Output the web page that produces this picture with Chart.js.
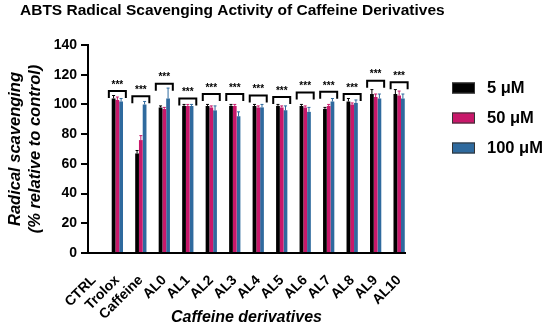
<!DOCTYPE html>
<html lang="en">
<head>
<meta charset="UTF-8">
<title>ABTS Radical Scavenging Activity of Caffeine Derivatives</title>
<script src="https://cdn.jsdelivr.net/npm/chart.js"></script>
<style>
  html, body { margin: 0; padding: 0; background: #fff; }
  #wrap { position: relative; width: 550px; height: 333px; }
</style>
</head>
<body>
<div id="wrap"><canvas id="abtsChart"></canvas></div>
<script>
// data
const categories = ['CTRL', 'Trolox', 'Caffeine', 'AL0', 'AL1', 'AL2', 'AL3', 'AL4', 'AL5', 'AL6', 'AL7', 'AL8', 'AL9', 'AL10'];
const seriesNames = ['5 \u03bcM', '50 \u03bcM', '100 \u03bcM'];
const values5   = [null, 104, 67, 98, 99, 99, 99, 99, 99, 99, 97, 102, 107, 107];
const values50  = [null, 103, 76, 97, 99, 98, 99, 98, 98, 98, 99, 100, 105, 106];
const values100 = [null, 102, 100, 104, 99, 96, 92, 98, 96, 95, 102, 101, 104, 104];
const errors5   = [0, 2, 2, 1, 1, 1, 1, 1, 1, 1, 1, 2, 3, 3];
const errors50  = [0, 2, 3, 1, 1, 1, 1, 1, 1, 1, 1, 1, 2, 3];
const errors100 = [0, 2, 2, 7, 1, 3, 3, 2, 3, 3, 2, 2, 3, 3];
const sigTops   = [null, 109, 105.5, 114, 104, 107, 107, 106, 105, 108, 108.5, 107, 116, 115];
const sigLabels = ['', '***', '***', '***', '***', '***', '***', '***', '***', '***', '***', '***', '***', '***'];
const yTicks = [0, 20, 40, 60, 80, 100, 120, 140];

const colors = ['#000000', '#c8186a', '#2f6a9e'];
const errors = [errors5, errors50, errors100];
const FONT = "'Liberation Sans', Arial, sans-serif";

const extras = {
  id: 'extras',
  afterDatasetsDraw(chart) {
    const ctx = chart.ctx;
    const x = chart.scales.x, y = chart.scales.y;
    ctx.save();
    // error bars (upward only)
    chart.data.datasets.forEach((ds, di) => {
      const meta = chart.getDatasetMeta(di);
      meta.data.forEach((bar, i) => {
        const v = ds.data[i].y, e = errors[di][i];
        if (v == null || !e) return;
        const top = y.getPixelForValue(v + e);
        ctx.strokeStyle = ds.backgroundColor;
        ctx.lineWidth = 1;
        ctx.beginPath();
        ctx.moveTo(bar.x, bar.y);
        ctx.lineTo(bar.x, top);
        ctx.moveTo(bar.x - 1.5, top);
        ctx.lineTo(bar.x + 1.5, top);
        ctx.stroke();
      });
    });
    // significance brackets
    ctx.strokeStyle = '#000';
    ctx.fillStyle = '#000';
    ctx.lineWidth = 2;
    ctx.font = 'bold 10px ' + FONT;
    ctx.textAlign = 'center';
    ctx.textBaseline = 'bottom';
    sigTops.forEach((t, i) => {
      if (t == null) return;
      const cx = x.getPixelForValue(i);
      const ty = y.getPixelForValue(t);
      ctx.beginPath();
      ctx.moveTo(cx - 8.5, ty + 7);
      ctx.lineTo(cx - 8.5, ty);
      ctx.lineTo(cx + 8.5, ty);
      ctx.lineTo(cx + 8.5, ty + 7);
      ctx.stroke();
      ctx.fillText(sigLabels[i], cx, ty - 1);
    });
    ctx.restore();
  },
  afterDraw(chart) {
    const ctx = chart.ctx;
    ctx.save();
    // title
    ctx.fillStyle = '#000';
    ctx.font = 'bold 15.5px ' + FONT;
    ctx.textAlign = 'left';
    ctx.textBaseline = 'middle';
    ctx.fillText('ABTS Radical Scavenging Activity of Caffeine Derivatives', 20, 11);
    // legend
    ctx.font = 'bold 16.5px ' + FONT;
    chart.data.datasets.forEach((ds, i) => {
      const cy = 88 + i * 30;
      ctx.fillStyle = ds.backgroundColor;
      ctx.fillRect(452, cy - 5.5, 23, 11);
      ctx.strokeStyle = '#333';
      ctx.lineWidth = 1;
      ctx.strokeRect(452.5, cy - 5, 22, 10);
      ctx.fillStyle = '#000';
      ctx.fillText(ds.label, 487, cy);
    });
    ctx.restore();
  }
};

const datasets = [values5, values50, values100].map((vals, i) => ({
  label: seriesNames[i],
  data: vals.map((v, k) => ({ x: k, y: v })),
  backgroundColor: colors[i],
  borderWidth: 0,
  categoryPercentage: 0.48,
  barPercentage: 1.0
}));

new Chart(document.getElementById('abtsChart'), {
  type: 'bar',
  data: { datasets: datasets },
  options: {
    responsive: true,
    maintainAspectRatio: false,
    animation: false,
    devicePixelRatio: 1,
    layout: { padding: { top: 45, right: 145, left: 0, bottom: 0 } },
    plugins: {
      legend: { display: false },
      title: { display: false },
      tooltip: { enabled: false }
    },
    scales: {
      x: {
        type: 'linear',
        min: -0.25,
        max: categories.length - 0.75,
        offset: false,
        afterBuildTicks(scale) { scale.ticks = categories.map((c, k) => ({ value: k })); },
        grid: { display: false },
        border: { display: true, color: '#000', width: 2 },
        ticks: {
          color: '#000',
          font: { family: FONT, size: 14, weight: 'bold' },
          minRotation: 45,
          maxRotation: 45,
          autoSkip: false,
          padding: 11,
          callback: (v) => categories[v]
        },
        title: {
          display: true,
          text: 'Caffeine derivatives',
          color: '#000',
          font: { family: FONT, size: 16, weight: 'bold', style: 'italic', lineHeight: 1.25 },
          padding: { top: 0, bottom: 5 }
        },
        afterFit(scale) { scale.height = 80; }
      },
      y: {
        min: 0,
        max: 140,
        afterBuildTicks(scale) { scale.ticks = yTicks.map(v => ({ value: v })); },
        grid: { display: true, drawOnChartArea: false, drawTicks: true, tickLength: 7, color: '#000', lineWidth: 2 },
        border: { display: true, color: '#000', width: 2 },
        ticks: {
          color: '#000',
          font: { family: FONT, size: 14, weight: 'bold' },
          padding: 4
        },
        title: {
          display: true,
          text: ['Radical scavenging', '(% relative to control)'],
          color: '#000',
          font: { family: FONT, size: 16.5, weight: 'bold', style: 'italic', lineHeight: 1.25 },
          padding: { top: 5, bottom: 0 }
        },
        afterFit(scale) { scale.width = 88; }
      }
    }
  },
  plugins: [extras]
});
</script>
</body>
</html>
